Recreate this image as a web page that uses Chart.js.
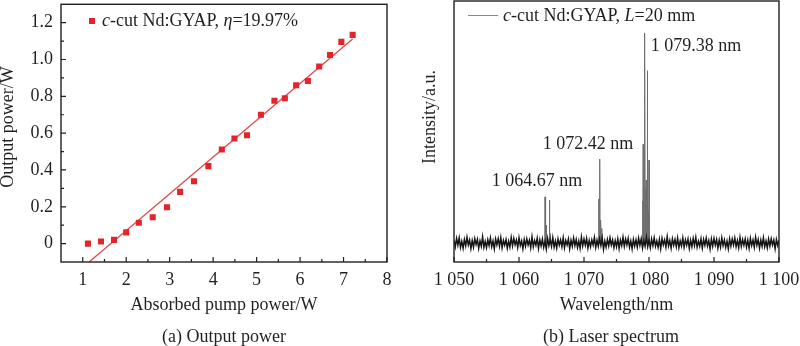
<!DOCTYPE html>
<html><head><meta charset="utf-8">
<script src="https://cdn.jsdelivr.net/npm/chart.js@4.4.1/dist/chart.umd.min.js"></script>
<style>
html,body{margin:0;padding:0;background:#fff;}
#wrap{position:relative;width:800px;height:346px;overflow:hidden;background:#fff;}
canvas{position:absolute;top:0;}
</style></head><body>
<div id="wrap">
<canvas id="cA" width="400" height="346" style="left:0"></canvas>
<canvas id="cB" width="400" height="346" style="left:400px"></canvas>
</div>
<script>
// ---------- (a) Output power ----------
const pumpPower   = [1.12,1.42,1.72,2.00,2.29,2.61,2.94,3.24,3.56,3.89,4.20,4.49,4.78,5.10,5.41,5.65,5.91,6.18,6.44,6.69,6.95,7.21];
const outputPower = [0.000,0.011,0.020,0.061,0.113,0.143,0.197,0.281,0.339,0.421,0.511,0.571,0.589,0.700,0.776,0.790,0.860,0.883,0.962,1.025,1.096,1.134];
const fitPump   = [1.146, 7.21];
const fitOutput = [-0.100, 1.111];
const pumpTicks = [1,2,3,4,5,6,7,8];
const pumpTickLabels = ['1','2','3','4','5','6','7','8'];
const pumpMinorTicks = [1.5,2.5,3.5,4.5,5.5,6.5,7.5];
const outputTicks = [0,0.2,0.4,0.6,0.8,1.0,1.2];
const outputTickLabels = ['0','0.2','0.4','0.6','0.8','1.0','1.2'];
const outputMinorTicks = [0.1,0.3,0.5,0.7,0.9,1.1];

// ---------- (b) Laser spectrum ----------
const wlStart = 1050, wlStep = 0.2;
const baselineNoise = [
 14,-18,22,-10,25,-20,9,-24,17,-13,28,-9,15,-26,12,-19,21,-7,18,-25,10,-15,30,-20,8,
 -22,16,-12,24,-17,10,-28,19,-9,21,-15,26,-22,13,-10,17,-24,9,-19,27,-13,22,-8,15,-21,
 25,-12,10,-27,17,-15,20,-9,14,-22,29,-17,12,-10,23,-25,15,-14,19,-20,9,-28,22,-12,17,
 -15,26,-19,10,-24,20,-10,15,-17,25,-22,12,-9,19,-27,13,-15,24,-12,17,-20,10,-25,29,-14,
 19,-10,22,-24,12,-17,15,-9,27,-20,14,-15,20,-12,24,-29,10,-19,17,-13,25,-10,15,-22,12,
 -17,20,-25,14,-12,28,-15,19,-9,22,-20,10,-27,17,-14,15,-19,24,-10,20,-24,12,-15,27,-17,
 14,-22,19,-12,25,-15,10,-20,17,-27,22,-9,15,-19,30,-14,12,-24,20,-10,17,-17,24,-22,10,
 -14,25,-20,15,-10,19,-25,14,-17,22,-12,27,-19,9,-15,20,-24,17,-10,24,-14,12,-28,19,-15,
 22,-10,17,-24,14,-19,25,-12,15,-20,10,-27,20,-14,19,-9,24,-17,12,-22,27,-15,17,-10,20,
 -19,14,-25,22,-12,15,-20,28,-10,17,-24,14,-15,25,-17,10,-22,19,-14,20,-9,15,-27,17,-12,
 15];
const peakWavelengths = [1064.00,1064.18,1064.68,1064.82, 1072.26,1072.42,1072.58,1072.76,
                         1079.02,1079.10,1079.20,1079.30,1079.38,1079.47,1079.56,1079.66,1079.75,1079.86,1080.00];
const peakIntensities = [220,85,205,45, 210,400,110,70,
                         200,470,180,230,1000,260,300,200,820,150,395];
const wlTicks = [1050,1060,1070,1080,1090,1100];
const wlTickLabels = ['1 050','1 060','1 070','1 080','1 090','1 100'];
const wlMinorTicks = [1055,1065,1075,1085,1095];
const peakLabels = ['1 064.67 nm','1 072.42 nm','1 079.38 nm'];

const SERIF = "'Liberation Serif', 'Times New Roman', serif";
const FONT = 18;
const TXT = '#231f20';
Chart.defaults.font.family = SERIF;
Chart.defaults.font.size = FONT;
Chart.defaults.color = TXT;

// label anchors (data units), left aligned, vertically centred
const peakLabelAnchors = [{x:1055.8,y:295},{x:1063.65,y:471},{x:1080.26,y:938}];

function drawRich(ctx, parts, x, y, align){
  let w = 0;
  parts.forEach(p=>{ctx.font=(p.i?'italic ':'')+FONT+'px '+SERIF; w+=ctx.measureText(p.t).width;});
  let cx = align==='center' ? x - w/2 : x;
  parts.forEach(p=>{ctx.font=(p.i?'italic ':'')+FONT+'px '+SERIF; ctx.fillText(p.t,cx,y); cx+=ctx.measureText(p.t).width;});
}

function frameTicks(o){
  return {id:'frameTicks', afterDatasetsDraw(chart){
    const {ctx, chartArea:a, scales} = chart;
    ctx.save();
    ctx.strokeStyle = '#231f20';
    ctx.lineWidth = 1.4;
    ctx.strokeRect(a.left, a.top, a.right-a.left, a.bottom-a.top);
    ctx.lineWidth = 1.2;
    ctx.beginPath();
    o.xMajor.forEach(v=>{const p=scales.x.getPixelForValue(v); ctx.moveTo(p,a.bottom); ctx.lineTo(p,a.bottom-5);});
    o.xMinor.forEach(v=>{const p=scales.x.getPixelForValue(v); ctx.moveTo(p,a.bottom); ctx.lineTo(p,a.bottom-3);});
    (o.yMajor||[]).forEach(v=>{const p=scales.y.getPixelForValue(v); ctx.moveTo(a.left,p); ctx.lineTo(a.left+5,p);});
    (o.yMinor||[]).forEach(v=>{const p=scales.y.getPixelForValue(v); ctx.moveTo(a.left,p); ctx.lineTo(a.left+3,p);});
    ctx.stroke();
    ctx.restore();
  }};
}

function texts(o){
  return {id:'texts', afterDraw(chart){
    const {ctx, chartArea:a} = chart;
    ctx.save();
    ctx.fillStyle = TXT;
    ctx.textBaseline = 'middle';
    ctx.font = FONT+'px '+SERIF;
    const cx = (a.left+a.right)/2;
    ctx.textAlign='center';
    ctx.fillText(o.xTitle, cx, 305);
    ctx.fillText(o.caption, o.captionX ?? cx, 337);
    ctx.save();
    ctx.translate(o.yTitleX, o.yTitleY);
    ctx.rotate(-Math.PI/2);
    ctx.textBaseline='alphabetic';
    ctx.fillText(o.yTitle, 0, 0);
    ctx.restore();
    ctx.textAlign='left';
    o.legend(ctx, a);
    if (o.extra) o.extra(chart, ctx);
    ctx.restore();
  }};
}

const commonTickFont = {family: SERIF, size: FONT};

// ---------- Chart A ----------
new Chart(document.getElementById('cA'), {
  type: 'scatter',
  data: {
    datasets: [
      {label:'c-cut Nd:GYAP', data: pumpPower.map((x,i)=>({x, y: outputPower[i]})),
       pointStyle:'rect', pointRadius:4.3, backgroundColor:'#e4242b', borderWidth:0, showLine:false},
      {label:'fit', type:'line', data: fitPump.map((x,i)=>({x, y: fitOutput[i]})),
       borderColor:'#e2474b', borderWidth:1.3, pointRadius:0, fill:false, tension:0}
    ]
  },
  options: {
    responsive:false, animation:false, devicePixelRatio:1,
    layout:{padding:{left:0,right:13,top:1,bottom:0}},
    plugins:{legend:{display:false}, tooltip:{enabled:false}},
    scales:{
      x:{type:'linear', min:0.5, max:8,
         afterBuildTicks: s=>{ s.ticks = pumpTicks.map(v=>({value:v})); },
         afterFit: s=>{ s.height = 84; s.paddingLeft=0; s.paddingRight=0; },
         grid:{display:false, drawTicks:false}, border:{display:false},
         ticks:{font:commonTickFont, color:TXT, padding:7, maxRotation:0, autoSkip:false,
                callback:(v,i)=>pumpTickLabels[i]}},
      y:{type:'linear', min:-0.1, max:1.3,
         afterBuildTicks: s=>{ s.ticks = outputTicks.map(v=>({value:v})); },
         afterFit: s=>{ s.width = 61; s.paddingTop=0; s.paddingBottom=0; },
         grid:{display:false, drawTicks:false}, border:{display:false},
         ticks:{font:commonTickFont, color:TXT, padding:8, autoSkip:false,
                callback:(v,i)=>outputTickLabels[i]}}
    }
  },
  plugins:[frameTicks({xMajor:pumpTicks, xMinor:pumpMinorTicks, yMajor:outputTicks, yMinor:outputMinorTicks}),
    texts({xTitle:'Absorbed pump power/W', caption:'(a) Output power', yTitle:'Output power/W', yTitleX:13, yTitleY:127,
      legend:(ctx,a)=>{
        ctx.fillStyle='#e4242b';
        ctx.fillRect(89,18,6,6);
        ctx.fillStyle=TXT;
        drawRich(ctx,[{t:'c',i:true},{t:'-cut Nd:GYAP, '},{t:'η',i:true},{t:'=19.97%'}],102,21,'left');
      }})]
});

// ---------- Chart B ----------
const baselinePts = baselineNoise.map((v,i)=>({x: Math.round((wlStart + i*wlStep)*100)/100, y: v}));
const peakPts = [];
peakWavelengths.forEach((w,i)=>{
  peakPts.push({x:w-0.045,y:0},{x:w,y:peakIntensities[i]},{x:w+0.045,y:0});
});

new Chart(document.getElementById('cB'), {
  type: 'line',
  data: {
    datasets: [
      {label:'baseline', data: baselinePts, borderColor:'#151515', borderWidth:1.5, pointRadius:0, tension:0, fill:false},
      {label:'c-cut Nd:GYAP, L=20 mm', data: peakPts, borderColor:'#6e6e6e', borderWidth:1, pointRadius:0, tension:0, fill:false}
    ]
  },
  options: {
    responsive:false, animation:false, devicePixelRatio:1,
    layout:{padding:{left:0,right:21,top:1,bottom:0}},
    plugins:{legend:{display:false}, tooltip:{enabled:false}},
    scales:{
      x:{type:'linear', min:1050, max:1100,
         afterBuildTicks: s=>{ s.ticks = wlTicks.map(v=>({value:v})); },
         afterFit: s=>{ s.height = 84; s.paddingLeft=0; s.paddingRight=0; },
         grid:{display:false, drawTicks:false}, border:{display:false},
         ticks:{font:commonTickFont, color:TXT, padding:7, maxRotation:0, autoSkip:false,
                callback:(v,i)=>wlTickLabels[i]}},
      y:{type:'linear', min:-90, max:1152,
         afterFit: s=>{ s.width = 54; s.paddingTop=0; s.paddingBottom=0; },
         grid:{display:false, drawTicks:false}, border:{display:false},
         ticks:{display:false}}
    }
  },
  plugins:[frameTicks({xMajor:wlTicks, xMinor:wlMinorTicks}),
    texts({xTitle:'Wavelength/nm', caption:'(b) Laser spectrum', captionX:211, yTitle:'Intensity/a.u.', yTitleX:35, yTitleY:117,
      legend:(ctx,a)=>{
        ctx.strokeStyle='#8a8a8a'; ctx.lineWidth=1;
        ctx.beginPath(); ctx.moveTo(68,15.5); ctx.lineTo(98,15.5); ctx.stroke();
        drawRich(ctx,[{t:'c',i:true},{t:'-cut Nd:GYAP, '},{t:'L',i:true},{t:'=20 mm'}],103,16,'left');
      },
      extra:(chart,ctx)=>{
        const {x,y} = chart.scales;
        ctx.font = FONT+'px '+SERIF;
        ctx.textAlign='left';
        peakLabels.forEach((t,i)=>{
          ctx.fillText(t, x.getPixelForValue(peakLabelAnchors[i].x), y.getPixelForValue(peakLabelAnchors[i].y));
        });
      }})]
});
</script>
</body></html>
